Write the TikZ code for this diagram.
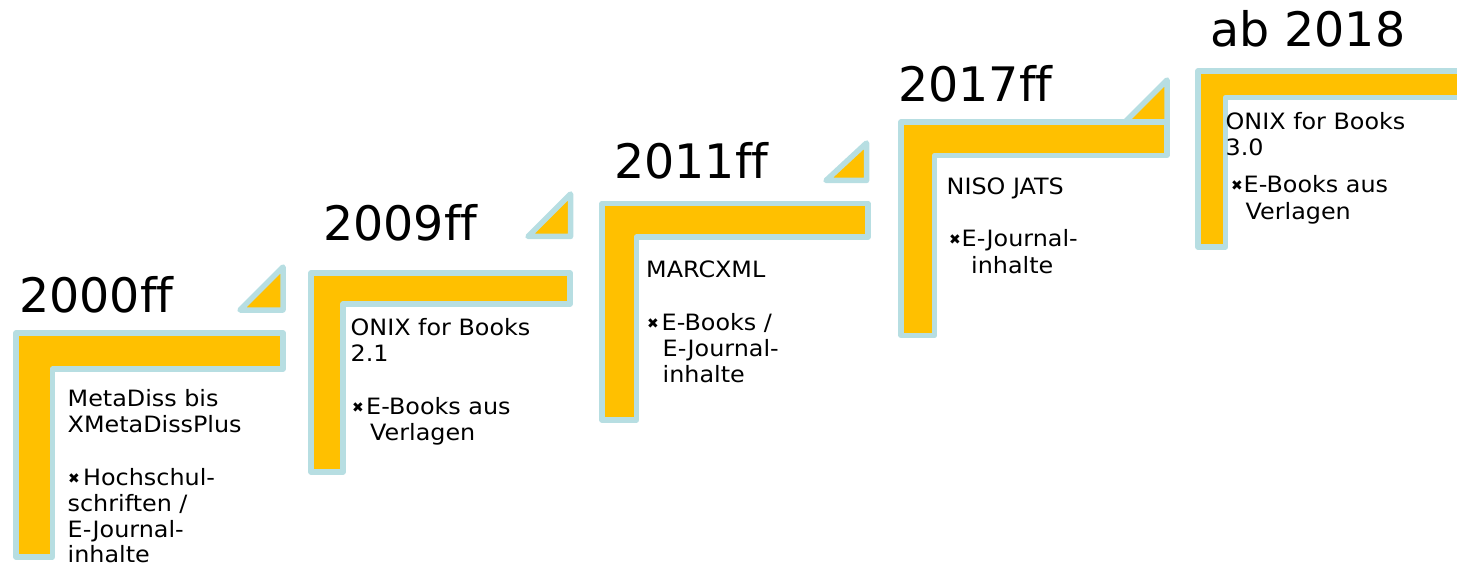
\documentclass[tikz,border=0pt]{standalone}
\usepackage{fontspec}
\setmainfont{DejaVu Sans}[Ligatures=NoCommon]
\newfontfamily\bodyfont{DejaVu Sans}[Ligatures=NoCommon,FakeStretch=1.06]
\definecolor{stepyellow}{RGB}{255,192,0}
\definecolor{stepblue}{RGB}{183,222,226}
\begin{document}
\begin{tikzpicture}[x=1pt,y=-1pt,
  stepshape/.style={fill=stepyellow, draw=stepblue, line width=5.5pt, line join=round},
  year/.style={font=\fontsize{47.5}{47.5}\selectfont, inner sep=0pt, anchor=base west},
  body/.style={font=\bodyfont\fontsize{22.5}{26}\selectfont, inner sep=0pt, anchor=base west},
  bul/.style={font=\fontsize{14}{14}\selectfont, inner sep=0pt, anchor=base west}]
\useasboundingbox (0,0) rectangle (1457,564);
\clip (0,0) rectangle (1457,564);
% step 1
\draw[stepshape] (16,333) -- (283,333) -- (283,369) -- (52.5,369) -- (52.5,557) -- (16,557) -- cycle;
\draw[stepshape] (240,310) -- (283,310) -- (283,267) -- cycle;
% step 2
\draw[stepshape] (311,273) -- (570,273) -- (570,304) -- (343,304) -- (343,472) -- (311,472) -- cycle;
\draw[stepshape] (528,236.5) -- (570.5,236.5) -- (570.5,194) -- cycle;
% step 3
\draw[stepshape] (602,203.5) -- (868,203.5) -- (868,237) -- (636.5,237) -- (636.5,420) -- (602,420) -- cycle;
\draw[stepshape] (826,180.5) -- (866.5,180.5) -- (866.5,143) -- cycle;
% step 4
\draw[stepshape] (1125,122) -- (1167,122) -- (1167,80) -- cycle;
\draw[stepshape] (901,122) -- (1167,122) -- (1167,155.5) -- (934.5,155.5) -- (934.5,335.5) -- (901,335.5) -- cycle;
% step 5
\draw[stepshape] (1198,71) -- (1480,71) -- (1480,97.5) -- (1225.5,97.5) -- (1225.5,247) -- (1198,247) -- cycle;
% years
\node[year] (y1) at (19,312.7) {2000ff};
\node[year] (y2) at (323,241) {2009ff};
\node[year] (y3) at (614,179) {2011ff};
\node[year] (y4) at (898,102) {2017ff};
\node[year] (y5) at (1210,46.5) {ab 2018};
% step 1 text
\node[body] (t1a) at (67.5,406) {MetaDiss bis};
\node[body] (t1b) at (67.5,432) {XMetaDissPlus};
\node[bul] (b1) at (68,483) {✖};
\node[body] (t1c) at (83,485) {Hochschul-};
\node[body] (t1d) at (67.5,511.5) {schriften /};
\node[body] (t1e) at (67.5,537.5) {E-Journal-};
\node[body] (t1f) at (67.5,562.5) {inhalte};
% step 2 text
\node[body] (t2a) at (350.5,335) {ONIX for Books};
\node[body] (t2b) at (350.5,361) {2.1};
\node[bul] (b2) at (352,412) {✖};
\node[body] (t2c) at (366,414) {E-Books aus};
\node[body] (t2d) at (370,440) {Verlagen};
% step 3 text
\node[body] (t3a) at (646,278) {MARCXML};
\node[bul] (b3) at (647,328) {✖};
\node[body] (t3c) at (661.5,330) {E-Books /};
\node[body] (t3d) at (662.5,356) {E-Journal-};
\node[body] (t3e) at (662.5,382) {inhalte};
% step 4 text
\node[body] (t4a) at (946.5,195) {NISO JATS};
\node[bul] (b4) at (949,245) {✖};
\node[body] (t4c) at (961.5,247) {E-Journal-};
\node[body] (t4d) at (971,273) {inhalte};
% step 5 text
\node[body] (t5a) at (1225.5,130) {ONIX for Books};
\node[body] (t5b) at (1225.5,156) {3.0};
\node[bul] (b5) at (1231,191) {✖};
\node[body] (t5c) at (1243.5,193) {E-Books aus};
\node[body] (t5d) at (1245.5,220) {Verlagen};
\end{tikzpicture}
\end{document}
